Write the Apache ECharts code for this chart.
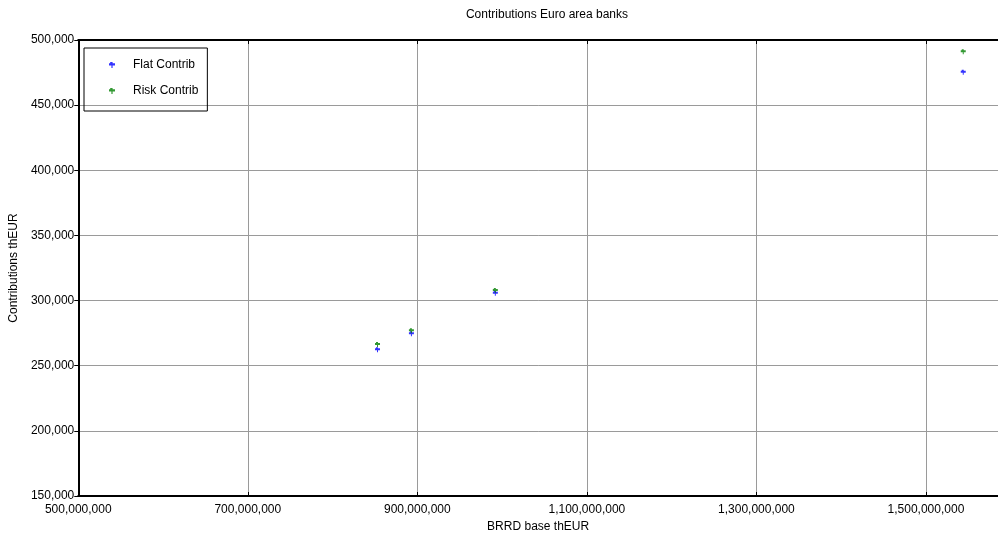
<!DOCTYPE html>
<html>
<head>
<meta charset="utf-8">
<script src="https://cdn.jsdelivr.net/npm/echarts@6/dist/echarts.min.js"></script>
<style>html,body{margin:0;padding:0;background:#fff}#c{width:998px;height:540px}</style>
</head>
<body>
<div id="c"></div>
<script>
const titleText = 'Contributions Euro area banks';
const xName = 'BRRD base thEUR';
const yName = 'Contributions thEUR';
const seriesNames = ['Flat Contrib', 'Risk Contrib'];
const brrdBase = [853000000, 893000000, 992000000, 1544000000];
const flatContrib = [262300, 274600, 305600, 475200];
const riskContrib = [266200, 276900, 307700, 491000];

const FONT = "'Liberation Sans Narrow','Arial Narrow','Liberation Sans',Arial,sans-serif";
const fmt = v => Math.round(v).toLocaleString('en-US');
const marker = 'path://M1,0L3,0L3,1L5,1L5,3L3,3L3,5L2,5L2,3L0,3L0,1L1,1Z';

const chart = echarts.init(document.getElementById('c'));
chart.setOption({
  animation: false,
  backgroundColor: '#fff',
  title: {text: titleText, left: 542, top: 4, textAlign: 'center',
    textStyle: {fontFamily: FONT, fontSize: 12, fontWeight: 'normal', color: '#000'}},
  legend: {
    orient: 'vertical', left: 84, top: 48,
    padding: [10, 9, 13, 25],
    itemGap: 12, itemWidth: 6, itemHeight: 6,
    borderColor: '#000', borderWidth: 1,
    textStyle: {fontFamily: FONT, fontSize: 12, color: '#000', padding: [0, 0, 0, 13], lineHeight: 14},
    data: seriesNames
  },
  grid: {left: 77, right: 0, top: 40, bottom: 44, containLabel: false},
  xAxis: [{
    type: 'value', min: 500000000, max: 1585000000, interval: 200000000,
    name: xName, nameLocation: 'middle', nameGap: 25,
    nameTextStyle: {fontFamily: FONT, fontSize: 12, color: '#000'},
    axisLine: {show: true, onZero: false, lineStyle: {color: '#000', width: 2}},
    axisTick: {show: true, inside: true, length: 4, lineStyle: {color: '#000'}},
    axisLabel: {fontFamily: FONT, fontSize: 12, color: '#000', margin: 8, formatter: fmt, showMaxLabel: false},
    splitLine: {show: true, lineStyle: {color: '#9a9a9a', width: 1}}
  }, {
    type: 'value', position: 'top', min: 500000000, max: 1585000000, interval: 200000000,
    axisLine: {show: true, onZero: false, lineStyle: {color: '#000', width: 2}},
    axisTick: {show: true, inside: true, length: 4, lineStyle: {color: '#000'}},
    axisLabel: {show: false}, splitLine: {show: false}
  }],
  yAxis: {
    type: 'value', min: 150000, max: 500000, interval: 50000,
    name: yName, nameLocation: 'middle', nameGap: 50, nameRotate: 90,
    nameTextStyle: {fontFamily: FONT, fontSize: 12, color: '#000'},
    axisLine: {show: true, onZero: false, lineStyle: {color: '#000', width: 2}},
    axisTick: {show: true, inside: false, length: 4, lineStyle: {color: '#000'}},
    axisLabel: {fontFamily: FONT, fontSize: 12, color: '#000', margin: 4, formatter: fmt},
    splitLine: {show: true, lineStyle: {color: '#9a9a9a', width: 1}}
  },
  series: [
    {name: seriesNames[0], type: 'scatter', symbol: marker, symbolSize: 5,
     itemStyle: {color: '#0000ff'},
     data: brrdBase.map((x, i) => [x, flatContrib[i]])},
    {name: seriesNames[1], type: 'scatter', symbol: marker, symbolSize: 5,
     itemStyle: {color: '#008000'},
     data: brrdBase.map((x, i) => [x, riskContrib[i]])}
  ]
});
</script>
</body>
</html>
